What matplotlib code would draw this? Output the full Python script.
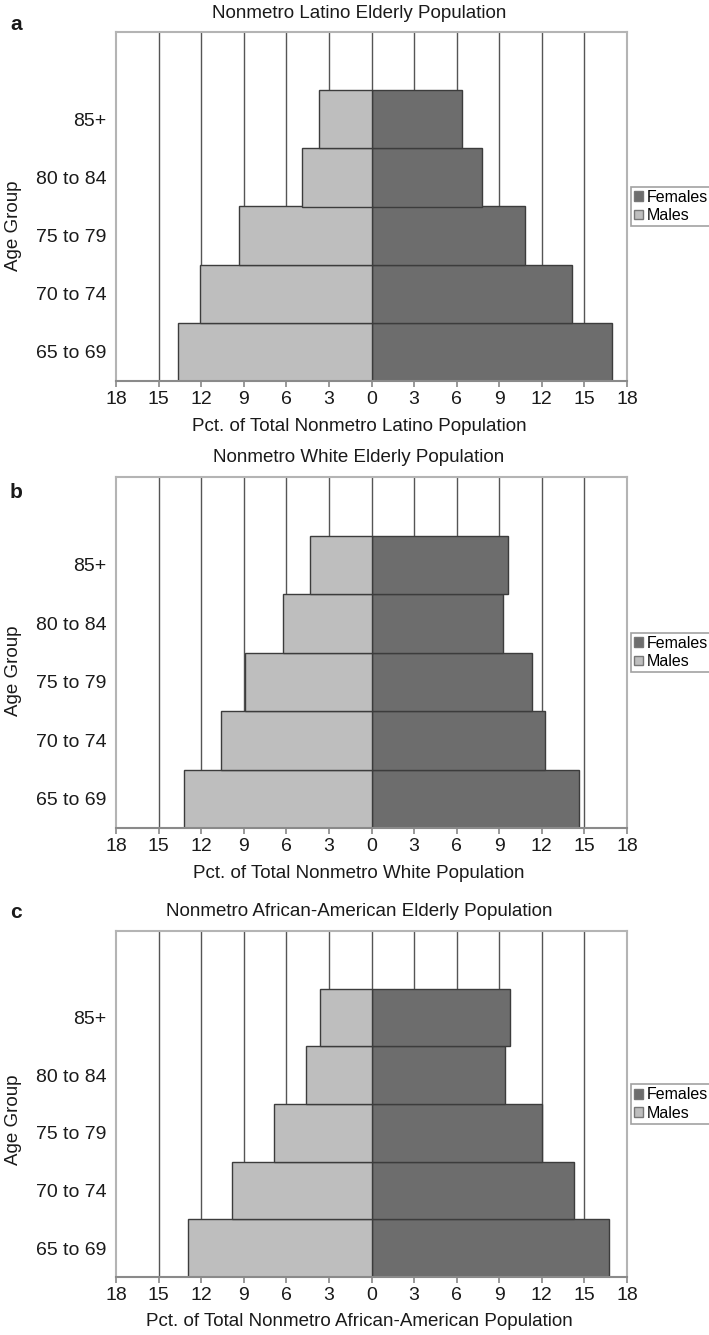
import matplotlib
matplotlib.use("Agg")
import matplotlib.pyplot as plt
import numpy as np

plt.rcParams['font.family'] = ['Liberation Sans', 'DejaVu Sans']

age_groups = ["65 to 69", "70 to 74", "75 to 79", "80 to 84", "85+"]
tick_values = [-18, -15, -12, -9, -6, -3, 0, 3, 6, 9, 12, 15, 18]
tick_labels = ["18", "15", "12", "9", "6", "3", "0", "3", "6", "9", "12", "15", "18"]

latino_males = [13.6, 12.1, 9.3, 4.9, 3.7]
latino_females = [16.95, 14.1, 10.8, 7.75, 6.4]
white_males = [13.2, 10.6, 8.9, 6.2, 4.3]
white_females = [14.65, 12.25, 11.3, 9.25, 9.65]
aa_males = [12.9, 9.8, 6.9, 4.6, 3.65]
aa_females = [16.75, 14.3, 12.0, 9.4, 9.75]

panels = [
    ("a", "Nonmetro Latino Elderly Population", "Pct. of Total Nonmetro Latino Population",
     latino_males, latino_females),
    ("b", "Nonmetro White Elderly Population", "Pct. of Total Nonmetro White Population",
     white_males, white_females),
    ("c", "Nonmetro African-American Elderly Population",
     "Pct. of Total Nonmetro African-American Population", aa_males, aa_females),
]

W, H = 709, 1335
fig = plt.figure(figsize=(W / 100, H / 100), dpi=100)

# axes pixel boxes: (top, bottom)
boxes = [(32, 381), (477, 828), (931, 1277)]
letter_y = [25, 493, 912]
ylabel_y = [226, 671, 1120]
left_px, right_px = 116, 627
male_col = "#bebebe"
female_col = "#6d6d6d"
edge_col = "#3c3c3c"
text_col = "#1a1a1a"

for i, (letter, title, xlabel, males, females) in enumerate(panels):
    top, bot = boxes[i]
    ax = fig.add_axes([left_px / W, 1 - bot / H, (right_px - left_px) / W, (bot - top) / H])
    y = np.arange(len(age_groups))
    for xv in tick_values[1:-1]:
        ax.axvline(xv, color="#555555", lw=1.0, zorder=1)
    fb = ax.barh(y, females, height=1.0, color=female_col, edgecolor=edge_col, lw=1.0,
                 zorder=2, label="Females")
    mb = ax.barh(y, [-m for m in males], height=1.0, color=male_col, edgecolor=edge_col,
                 lw=1.0, zorder=2, label="Males")
    ax.set_xlim(-18, 18)
    ax.set_ylim(-0.5, 5.5)
    ax.set_xticks(tick_values)
    ax.set_xticklabels(tick_labels)
    ax.set_yticks(y)
    ax.set_yticklabels(age_groups)
    ax.tick_params(axis="y", length=0, pad=7, labelsize=14, labelcolor=text_col)
    ax.tick_params(axis="x", length=4, width=1.2, color="#888888", pad=3, labelsize=14,
                   labelcolor=text_col)
    for side in ["top", "left", "right"]:
        ax.spines[side].set_color("#b4b4b4")
        ax.spines[side].set_linewidth(1.5)
    ax.spines["bottom"].set_color("#8a8a8a")
    ax.spines["bottom"].set_linewidth(1.5)
    leg = ax.legend(handles=[fb, mb], loc="center left", bbox_to_anchor=(1.008, 0.5),
                    fontsize=11.5, frameon=True, fancybox=False, edgecolor="#8a8a8a",
                    handlelength=0.55, handleheight=0.55, handletextpad=0.2,
                    borderpad=0.2, labelspacing=0.2, borderaxespad=0.0)
    leg.get_frame().set_linewidth(1.2)
    for h in leg.legend_handles:
        h.set_edgecolor("#777777")
    fig.text(359 / W, 1 - (top - 19) / H, title, ha="center", va="center", fontsize=13.5,
             color=text_col)
    fig.text(359 / W, 1 - (bot + 45) / H, xlabel, ha="center", va="center", fontsize=13.5,
             color=text_col)
    fig.text(16 / W, 1 - letter_y[i] / H, letter, ha="center", va="center", fontsize=15,
             fontweight="bold", color=text_col)
    fig.text(14 / W, 1 - ylabel_y[i] / H, "Age Group", ha="center", va="center",
             rotation=90, fontsize=13.5, color=text_col)

fig.savefig("out.png", dpi=100)
